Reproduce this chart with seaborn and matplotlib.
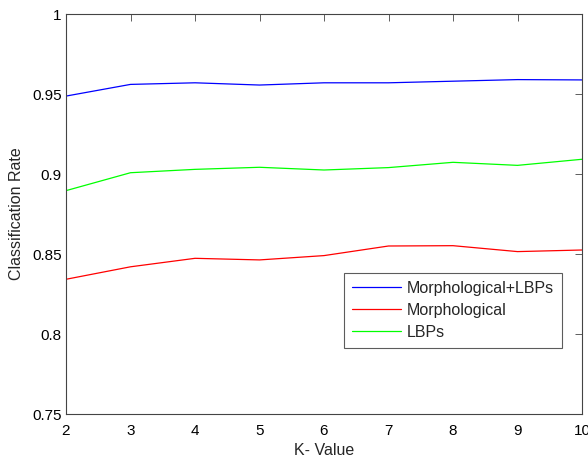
import numpy as np
import pandas as pd
import matplotlib
matplotlib.use("Agg")
import matplotlib.pyplot as plt
import seaborn as sns

k_values = [2, 3, 4, 5, 6, 7, 8, 9, 10]
morph_lbp = [0.9487, 0.9560, 0.9570, 0.9556, 0.9570, 0.9570, 0.9580, 0.9590, 0.9588]
morph = [0.8342, 0.8420, 0.8473, 0.8463, 0.8490, 0.8550, 0.8552, 0.8515, 0.8525]
lbps = [0.8896, 0.9008, 0.9029, 0.9042, 0.9025, 0.9040, 0.9073, 0.9054, 0.9092]
series_names = ["Morphological+LBPs", "Morphological", "LBPs"]
colors = ["#0000ff", "#ff0000", "#00ff00"]
y_ticks = [0.75, 0.8, 0.85, 0.9, 0.95, 1]
y_tick_labels = ["0.75", "0.8", "0.85", "0.9", "0.95", "1"]

df = pd.DataFrame({
    "K": k_values * 3,
    "rate": morph_lbp + morph + lbps,
    "series": [series_names[0]] * 9 + [series_names[1]] * 9 + [series_names[2]] * 9,
})

sns.set_style("white")
plt.rcParams["font.family"] = ["Liberation Sans", "DejaVu Sans"]

fig = plt.figure(figsize=(5.88, 4.59), dpi=100)
ax = fig.add_axes([66 / 588, 45 / 459, 516 / 588, 400 / 459])
sns.lineplot(data=df, x="K", y="rate", hue="series", hue_order=series_names,
             palette=colors, linewidth=0.9, ax=ax)

ax.set_xlim(2, 10)
ax.set_ylim(0.75, 1)
ax.set_xticks(k_values)
ax.set_xticklabels([str(k) for k in k_values])
ax.set_yticks(y_ticks)
ax.set_yticklabels(y_tick_labels)
ax.tick_params(direction="in", length=5, width=0.6, color="#444444",
               top=True, right=True, labelsize=11, labelcolor="black")
ax.tick_params(axis="x", pad=7)
ax.tick_params(axis="y", pad=3)
for s in ax.spines.values():
    s.set_color("#444444")
    s.set_linewidth(0.8)
ax.set_xlabel("K- Value", fontsize=11.5, labelpad=4)
ax.set_ylabel("Classification Rate", fontsize=11.5, labelpad=6)

leg = ax.legend(loc="lower right", bbox_to_anchor=(0.961, 0.165), fontsize=11.5,
                frameon=True, fancybox=False, handlelength=3.1, handletextpad=0.35,
                borderpad=0.5, labelspacing=0.45, borderaxespad=0)
leg.get_frame().set_edgecolor("#333333")
leg.get_frame().set_linewidth(0.8)

fig.savefig("out.png", dpi=100)
